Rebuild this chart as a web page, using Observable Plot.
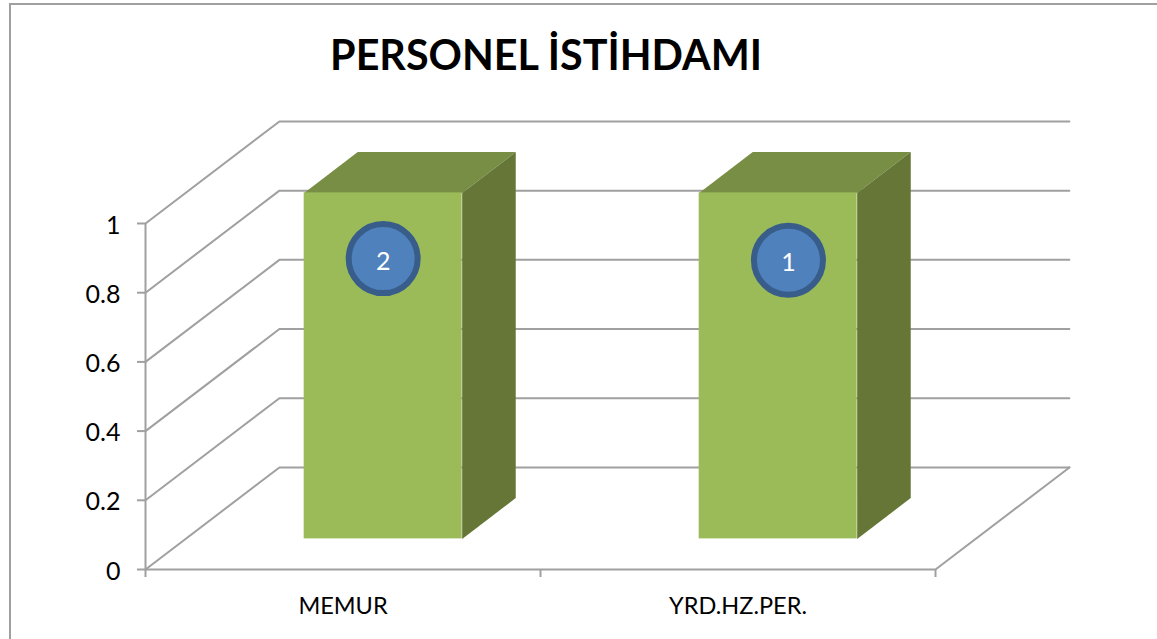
<!DOCTYPE html>
<html>
<head>
<meta charset="utf-8">
<script src="https://cdn.jsdelivr.net/npm/d3@7"></script>
<script src="https://cdn.jsdelivr.net/npm/@observablehq/plot@0.6"></script>
<style>
  html, body { margin: 0; padding: 0; background: #fff; overflow: hidden; }
  #chart { position: relative; width: 1157px; height: 639px; }
  #frame { position: absolute; left: 9px; top: 3px; right: 0; bottom: 0; border-left: 2px solid #a0a0a0; border-top: 2px solid #a0a0a0; pointer-events: none; }
  #title { width: 1092px; height: 100px; text-align: center; font: 700 41.3px/108px Lato, sans-serif; color: #000; }
  svg { display: block; }
</style>
</head>
<body>
<div id="chart">
  <div id="frame"></div>
  <div id="title">PERSONEL İSTİHDAMI</div>
</div>
<script>
const categories = ["MEMUR", "YRD.HZ.PER."];
const values = [2, 1];
const labelLevels = [0.81, 0.805];
const labelShifts = [0, 0.026];
const valueTicks = [0, 0.2, 0.4, 0.6, 0.8, 1];
const axisMax = 1;

// Oblique projection of the 3-D chart box, expressed in data units
const depthX = 0.339, depthY = 0.295;
const barFront = 0.3, barBack = 0.7, barHalf = 0.2;
const project = (x, y, d, key) => ({ x: x + d * depthX, y: y + d * depthY, key });

const gridLines = valueTicks.flatMap(v => [
  project(0, v, 0, v), project(0, v, 1, v), project(categories.length, v, 1, v)
]);
const floorEdge = [project(categories.length, 0, 0, "edge"), project(categories.length, 0, 1, "edge")];

const bars = categories.map((c, i) => ({
  c, i, value: Math.min(values[i], axisMax),
  x1: i + 0.5 - barHalf + barFront * depthX,
  x2: i + 0.5 + barHalf + barFront * depthX,
  y1: barFront * depthY,
  y2: Math.min(values[i], axisMax) + barFront * depthY
}));
const topFaces = bars.flatMap(b => {
  const l = b.i + 0.5 - barHalf, r = b.i + 0.5 + barHalf;
  return [project(l, b.value, barFront, b.i), project(r, b.value, barFront, b.i),
          project(r, b.value, barBack, b.i), project(l, b.value, barBack, b.i)];
});
const sideFaces = bars.flatMap(b => {
  const r = b.i + 0.5 + barHalf;
  return [project(r, 0, barFront, b.i), project(r, b.value, barFront, b.i),
          project(r, b.value, barBack, b.i), project(r, 0, barBack, b.i)];
});
const labels = categories.map((c, i) => ({
  x: i + 0.5 + labelShifts[i] + barFront * depthX,
  y: labelLevels[i] * axisMax + barFront * depthY,
  text: String(values[i])
}));

const gridColor = "#a0a0a0";
const font = "Lato, sans-serif";

const plot = Plot.plot({
  width: 1157,
  height: 539,
  marginLeft: 145,
  marginRight: 87,
  marginTop: 0,
  marginBottom: 70,
  x: { type: "linear", domain: [0, categories.length], range: [145, 935] },
  y: { type: "linear", domain: [0, axisMax], range: [469, 123] },
  style: { fontFamily: font, background: "transparent", overflow: "visible" },
  marks: [
    Plot.line(gridLines, { x: "x", y: "y", z: "key", stroke: gridColor, strokeWidth: 2 }),
    Plot.line(floorEdge, { x: "x", y: "y", z: "key", stroke: gridColor, strokeWidth: 2 }),
    Plot.ruleX([0], { y1: 0, y2: axisMax, stroke: gridColor, strokeWidth: 2 }),
    Plot.ruleY([0], { x1: 0, x2: categories.length, stroke: gridColor, strokeWidth: 2 }),
    Plot.axisY({ ticks: valueTicks, tickFormat: () => "", anchor: "left", tickSize: 8, stroke: gridColor, strokeWidth: 2, label: null }),
    Plot.text(valueTicks, { x: 0, y: d => d, text: d => String(d), textAnchor: "end", dx: -25, dy: 2, fontSize: 25, fill: "#000" }),
    Plot.axisX({ ticks: d3.range(categories.length + 1), tickFormat: () => "", anchor: "bottom", tickSize: 8, stroke: gridColor, strokeWidth: 2, label: null }),
    Plot.axisX({ ticks: categories.map((c, i) => i + 0.5), tickFormat: t => categories[Math.floor(t)], anchor: "bottom", tickSize: 0, tickPadding: 28, fontSize: 23.5, fill: "#000", label: null }),
    Plot.line(topFaces, { x: "x", y: "y", z: "key", fill: "#788E45", stroke: "none" }),
    Plot.line(sideFaces, { x: "x", y: "y", z: "key", fill: "#667636", stroke: "none" }),
    Plot.rect(bars, { x1: "x1", x2: "x2", y1: "y1", y2: "y2", fill: "#9BBB59" }),
    Plot.dot(labels, { x: "x", y: "y", r: 34.5, fill: "#4F81BD", stroke: "#385D8A", strokeWidth: 6 }),
    Plot.text(labels, { x: "x", y: "y", text: "text", fill: "#fff", fontSize: 25, dy: 3 })
  ]
});
document.getElementById("chart").appendChild(plot);
</script>
</body>
</html>
